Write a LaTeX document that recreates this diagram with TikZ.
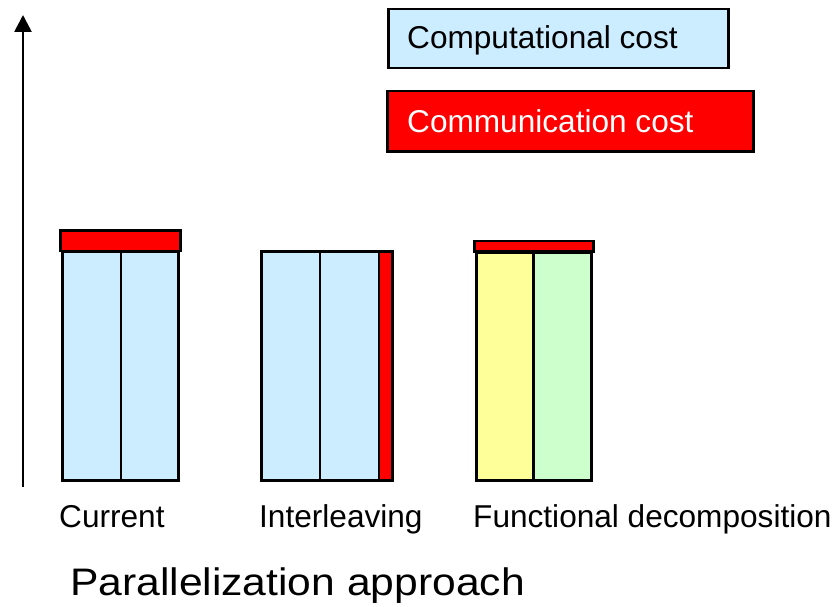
\documentclass[tikz,border=0pt]{standalone}
\usepackage{fontspec}
\setmainfont{Liberation Sans}
\usetikzlibrary{arrows.meta}
\definecolor{compblue}{HTML}{CCECFF}
\definecolor{commred}{HTML}{FF0000}
\definecolor{funcyellow}{HTML}{FFFF99}
\definecolor{funcgreen}{HTML}{CCFFCC}
\tikzset{
  cell/.style={draw=black, line width=2.5pt, inner sep=0pt, anchor=north west},
  lbl/.style={inner sep=0pt, anchor=base west, font=\fontsize{31.6}{38}\selectfont},
}
\newcommand{\cellbox}[6]{% name, colour, x1, y1, x2, y2
  \node[cell, fill=#2, minimum width={(#5-#3)*1pt}, minimum height={(#6-#4)*1pt}] (#1) at (#3,#4) {};}
\begin{document}
\begin{tikzpicture}[x=1pt, y=-1pt]
\useasboundingbox (0,0) rectangle (837,607);

% vertical axis
\coordinate (axisbot) at (23,487);
\coordinate (axistop) at (23,15);
\draw[line width=2.6pt, -{Triangle[length=17pt, width=17pt]}] (axisbot) -- (axistop);

% legend
\cellbox{legcomp}{compblue}{387}{8}{727}{67}
\cellbox{legcomm}{commred}{386}{90}{752}{150}
\node[lbl] (legcomptxt) at (407,49) {Computational cost};
\node[lbl, text=white] (legcommtxt) at (407,132) {Communication cost};

% current approach
\cellbox{curA}{compblue}{61}{250}{119.5}{479}
\cellbox{curB}{compblue}{119.5}{250}{177}{479}
\cellbox{curC}{commred}{59}{229}{179}{249.5}

% interleaving
\cellbox{intA}{compblue}{260}{250}{318.5}{479}
\cellbox{intB}{compblue}{318.5}{250}{377.5}{479}
\cellbox{intC}{commred}{377.5}{250}{391}{479}

% functional decomposition
\cellbox{funA}{funcyellow}{475}{251}{532}{479}
\cellbox{funB}{funcgreen}{532}{251}{590}{479}
\cellbox{funC}{commred}{473}{239.5}{592}{250}

% labels
\node[lbl] (labcur) at (59,527) {Current};
\node[lbl] (labint) at (259,527) {Interleaving};
\node[lbl] (labfun) at (473,527) {Functional decomposition};
\node[inner sep=0pt, anchor=base west, font=\fontsize{42.6}{48}\selectfont,
      yscale=0.9, transform shape] (axislabel) at (70,595) {Parallelization approach};
\end{tikzpicture}
\end{document}
